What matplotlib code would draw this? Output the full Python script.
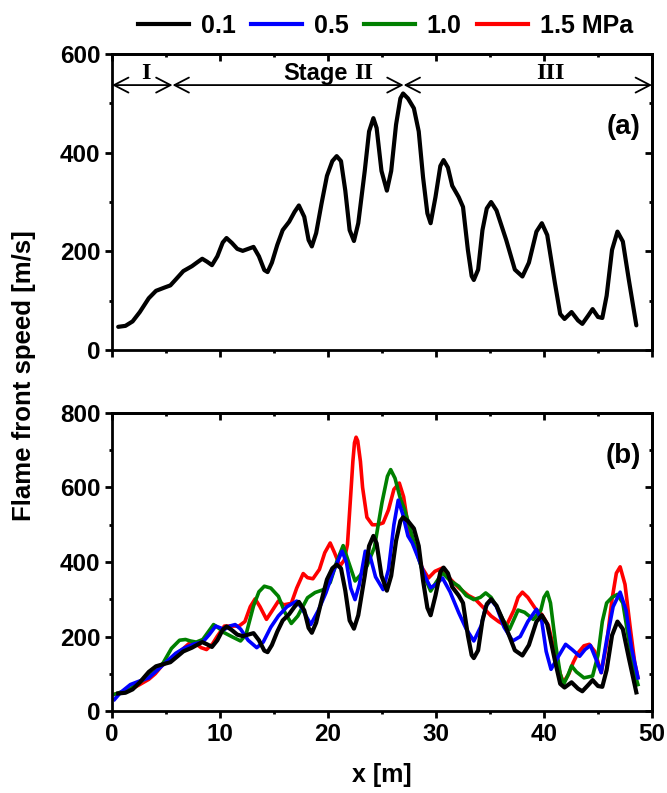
import matplotlib.pyplot as plt
from matplotlib.ticker import MultipleLocator, NullFormatter
from matplotlib.lines import Line2D

FONTE = ['Liberation Sans', 'DejaVu Sans']
SERIF = ['Liberation Serif', 'DejaVu Serif']
plt.rcParams['font.family'] = FONTE
plt.rcParams['font.weight'] = 'bold'

# --- flame front speed vs. distance, 0.1 MPa (panel a and black curve in b) ---
x_01 = [0.57, 1.24, 1.9, 2.57, 3.4, 4.07, 4.9, 5.4, 5.9, 6.6, 7.4, 7.9, 8.35, 8.8, 9.25,
        9.75, 10.25, 10.6, 11.1, 11.6, 12.1, 12.6, 13.1, 13.6, 14.1, 14.4, 14.8, 15.3, 15.8,
        16.4, 16.9, 17.3, 17.8, 18.2, 18.5, 18.9, 19.4, 19.9, 20.4, 20.8, 21.2, 21.6, 22.0,
        22.4, 22.8, 23.4, 23.8, 24.2, 24.5, 24.95, 25.45, 25.85, 26.3, 26.7, 26.95, 27.4,
        27.95, 28.4, 28.8, 29.2, 29.5, 29.95, 30.4, 30.7, 31.1, 31.5, 32.1, 32.5, 32.95,
        33.3, 33.5, 33.9, 34.3, 34.7, 35.1, 35.6, 36.5, 37.3, 38.0, 38.6, 39.3, 39.8, 40.3,
        41.0, 41.5, 41.9, 42.55, 43.15, 43.55, 44.1, 44.5, 45.0, 45.4, 45.8, 46.3, 46.8,
        47.3, 47.85, 48.55]
v_01 = [47, 49, 58, 77, 105, 120, 127, 131, 143, 160, 170, 178, 185, 179, 172,
        190, 218, 227, 217, 205, 201, 205, 209, 190, 162, 158, 177, 213, 243,
        260, 280, 293, 270, 223, 210, 237, 297, 353, 383, 393, 383, 323, 243,
        221, 257, 363, 443, 470, 450, 363, 323, 363, 457, 510, 520, 510,
        490, 443, 350, 277, 257, 310, 373, 385, 370, 333, 310, 290, 203,
        150, 142, 163, 243, 287, 300, 283, 223, 163, 149, 177, 240, 257, 233,
        137, 73, 63, 77, 60, 53, 70, 83, 67, 65, 110, 203, 240,
        220, 143, 50]

# --- 0.5 MPa ---
x_05 = [0.23, 0.8, 1.7, 2.5, 3.4, 4.2, 5.1, 5.9, 6.75, 7.6, 8.4, 9.0, 9.6, 10.4, 10.9,
        11.4, 11.9, 12.6, 13.4, 14.0, 14.7, 15.4, 16.2, 17.1, 17.6, 18.4, 19.1, 19.8, 20.5,
        21.3, 21.7, 22.1, 22.5, 22.9, 23.45, 23.9, 24.4, 25.1, 25.6, 26.1, 26.5, 26.9, 27.4,
        27.8, 28.5, 29.0, 29.5, 30.0, 30.6, 31.3, 32.1, 32.8, 33.5, 34.2, 34.6, 35.1, 35.6,
        36.3, 37.1, 37.8, 38.5, 39.3, 39.8, 40.2, 40.65, 41.2, 42.0, 42.6, 43.3, 43.8, 44.3,
        44.8, 45.3, 45.8, 46.4, 47.05, 47.6, 48.1, 48.7]
v_05 = [31, 50, 71, 80, 89, 110, 134, 155, 170, 180, 185, 205, 228, 219, 228,
        232, 220, 190, 170, 185, 225, 255, 280, 295, 275, 232, 270, 317, 375,
        429, 400, 330, 299, 340, 429, 415, 360, 326, 380, 500, 566, 530, 470,
        451, 400, 360, 331, 340, 357, 320, 264, 220, 188, 230, 280, 299, 280,
        225, 188, 200, 240, 273, 240, 160, 112, 140, 179, 165, 147, 165, 176,
        140, 103, 190, 280, 319, 270, 170, 89]

# --- 1.0 MPa ---
x_10 = [0.25, 1.7, 3.4, 4.2, 4.75, 5.5, 6.25, 6.8, 7.25, 7.8, 8.4, 8.9, 9.4, 9.9, 10.4,
        11.2, 11.9, 12.4, 13.1, 13.6, 14.1, 14.7, 15.4, 16.0, 16.6, 17.2, 18.1, 18.8, 19.6,
        20.2, 20.8, 21.4, 21.9, 22.5, 23.0, 23.6, 24.3, 25.0, 25.5, 25.8, 26.2, 26.7, 27.1,
        27.6, 28.1, 28.8, 29.5, 30.0, 30.6, 31.3, 32.1, 32.8, 33.5, 34.1, 34.6, 35.1, 35.6,
        36.2, 36.8, 37.2, 37.6, 38.2, 39.0, 39.7, 40.0, 40.3, 40.6, 41.1, 41.5, 41.8, 42.2,
        42.55, 43.0, 43.7, 44.5, 45.0, 45.4, 45.8, 46.3, 46.8, 47.3, 47.8, 48.3, 48.7]
v_10 = [45, 60, 94, 110, 130, 168, 190, 192, 188, 185, 192, 212, 232, 222, 210,
        198, 188, 205, 282, 320, 335, 330, 308, 265, 235, 255, 304, 318, 326,
        345, 400, 444, 400, 349, 365, 389, 440, 560, 630, 648, 625, 570, 540,
        490, 438, 370, 322, 345, 371, 350, 335, 310, 299, 305, 317, 305, 281,
        245, 219, 245, 271, 265, 246, 270, 305, 319, 290, 174, 100, 71, 95,
        121, 105, 89, 94, 150, 240, 290, 305, 313, 290, 200, 110, 71]

# --- 1.5 MPa ---
x_15 = [0.25, 1.0, 1.7, 2.5, 3.4, 4.0, 4.6, 5.7, 6.5, 7.2, 7.7, 8.25, 8.75, 9.3, 9.75,
        10.4, 11.0, 11.75, 12.3, 12.8, 13.25, 13.7, 14.3, 14.8, 15.4, 15.9, 16.6, 17.1, 17.7,
        18.1, 18.6, 19.2, 19.7, 20.2, 20.6, 21.1, 21.5, 21.8, 22.1, 22.3, 22.45, 22.6, 22.75,
        23.0, 23.2, 23.6, 24.1, 24.6, 25.1, 25.6, 26.1, 26.6, 27.0, 27.5, 28.1, 28.7, 29.3,
        29.9, 30.6, 31.3, 32.1, 33.0, 33.6, 34.3, 35.1, 35.8, 36.5, 37.2, 37.6, 38.0, 38.5,
        39.2, 39.8, 40.4, 41.0, 41.5, 41.8, 42.3, 42.7, 43.15, 43.7, 44.2, 44.7, 45.3, 45.8,
        46.3, 46.7, 47.05, 47.5, 48.0, 48.4, 48.7]
v_15 = [45, 50, 58, 70, 85, 100, 121, 147, 165, 183, 182, 170, 165, 180, 201,
        228, 228, 228, 240, 280, 301, 280, 246, 268, 295, 285, 289, 330, 369,
        358, 355, 380, 425, 451, 425, 389, 405, 447, 580, 670, 720, 735, 725,
        670, 600, 520, 500, 500, 505, 540, 595, 612, 575, 480, 442, 385, 357,
        375, 384, 355, 331, 310, 301, 280, 255, 240, 228, 270, 305, 319, 305,
        275, 259, 230, 156, 100, 76, 100, 130, 156, 175, 179, 160, 103, 180,
        300, 370, 387, 340, 220, 130, 90]

series_labels = ['0.1', '0.5', '1.0', '1.5 MPa']
series_colors = ['black', '#0000ff', '#008000', '#ff0000']

# stage boundaries along the duct [m]
stage_edges = [0, 5.6, 27, 50]

fig = plt.figure(figsize=(6.67, 7.93), dpi=100)
ax_a = fig.add_axes([0.168, 0.5586, 0.8095, 0.3733])
ax_b = fig.add_axes([0.168, 0.1034, 0.8095, 0.3758])

LW_EIXO = 2.0


def estilo_eixo(ax, ymax, ystep, rotulos_x=True):
    ax.set_xlim(0, 50)
    ax.set_ylim(0, ymax)
    ax.xaxis.set_major_locator(MultipleLocator(10))
    ax.xaxis.set_minor_locator(MultipleLocator(5))
    ax.yaxis.set_major_locator(MultipleLocator(ystep))
    ax.yaxis.set_minor_locator(MultipleLocator(ystep / 2))
    for s in ax.spines.values():
        s.set_linewidth(LW_EIXO)
    ax.tick_params(which='both', direction='out', width=LW_EIXO, labelsize=17.5, pad=3.5)
    ax.tick_params(which='major', length=5)
    ax.tick_params(which='minor', length=2.5)
    if not rotulos_x:
        ax.xaxis.set_major_formatter(NullFormatter())

    # mirrored ticks on top and right, pointing inwards
    topo = ax.secondary_xaxis('top')
    dire = ax.secondary_yaxis('right')
    topo.xaxis.set_major_locator(MultipleLocator(10))
    topo.xaxis.set_minor_locator(MultipleLocator(5))
    dire.yaxis.set_major_locator(MultipleLocator(ystep))
    dire.yaxis.set_minor_locator(MultipleLocator(ystep / 2))
    for sec in (topo, dire):
        sec.tick_params(which='both', direction='in', width=LW_EIXO,
                        labeltop=False, labelright=False)
        sec.tick_params(which='major', length=5)
        sec.tick_params(which='minor', length=2.5)
        for s in sec.spines.values():
            s.set_linewidth(LW_EIXO)


estilo_eixo(ax_a, 600, 200, rotulos_x=False)
estilo_eixo(ax_b, 800, 200)

# panel (a)
ax_a.plot(x_01, v_01, color='black', lw=3.0, solid_capstyle='round', solid_joinstyle='round')

arrow_y = 537
for x0, x1 in zip(stage_edges[:-1], stage_edges[1:]):
    ax_a.annotate('', xy=(x1, arrow_y), xytext=(x0, arrow_y),
                  arrowprops=dict(arrowstyle='<->,head_length=0.52,head_width=0.27',
                                  lw=1.3, color='black', mutation_scale=20,
                                  shrinkA=0, shrinkB=0))
ax_a.text(3.1, 560, 'I', ha='center', va='center', fontsize=17.5, fontweight='bold', family=SERIF)
ax_a.text(21.8, 560, 'Stage', ha='right', va='center', fontsize=17, fontweight='bold')
ax_a.text(22.4, 560, 'II', ha='left', va='center', fontsize=17.5, fontweight='bold', family=SERIF)
ax_a.text(40.6, 560, 'III', ha='center', va='center', fontsize=17.5, fontweight='bold', family=SERIF)
ax_a.text(0.947, 0.755, '(a)', transform=ax_a.transAxes, ha='center', va='center',
          fontsize=20, fontweight='bold')

# panel (b)
ax_b.plot(x_15, v_15, color=series_colors[3], lw=2.6, solid_joinstyle='round')
ax_b.plot(x_10, v_10, color=series_colors[2], lw=2.6, solid_joinstyle='round')
ax_b.plot(x_05, v_05, color=series_colors[1], lw=2.6, solid_joinstyle='round')
ax_b.plot(x_01, v_01, color=series_colors[0], lw=3.0, solid_joinstyle='round')
ax_b.text(0.947, 0.855, '(b)', transform=ax_b.transAxes, ha='center', va='center',
          fontsize=20, fontweight='bold')

fig.text(0.573, 0.0227, 'x [m]', ha='center', va='center', fontsize=18, fontweight='bold')
fig.text(0.036, 0.526, 'Flame front speed [m/s]', rotation=90, ha='center', va='center',
         fontsize=18.5, fontweight='bold')

handles = [Line2D([], [], color=c, lw=3.0) for c in series_colors]
fig.legend(handles, series_labels, loc='center', bbox_to_anchor=(0.578, 0.967), ncol=4,
           frameon=False, prop={'size': 18, 'weight': 'bold', 'family': FONTE},
           handlelength=2.04, columnspacing=0.6, handletextpad=0.48)

fig.savefig('out.png', dpi=100)
